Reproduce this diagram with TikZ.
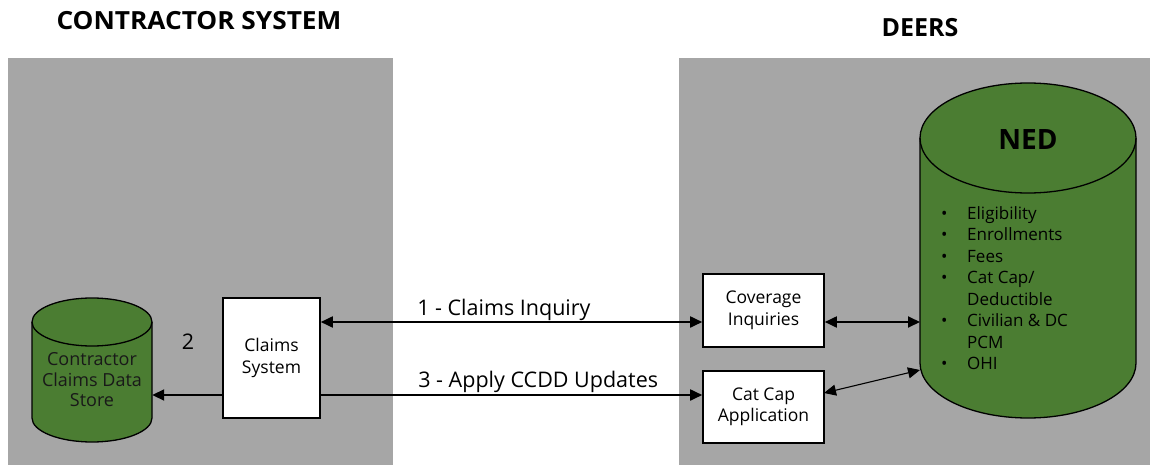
\documentclass[tikz,border=0pt]{standalone}
\usepackage{fontspec}
\setmainfont{Open Sans}
\usetikzlibrary{arrows.meta}
\definecolor{panel}{HTML}{A6A6A6}
\definecolor{dbgreen}{HTML}{4B7D32}
\tikzset{
  box/.style={draw=black, line width=1.6pt, fill=white, inner sep=0pt, align=center, font=\fontsize{17.5}{21.5}\selectfont},
  cyl/.style={draw=black, line width=1.3pt, fill=dbgreen},
  conn/.style={line width=1.8pt, {Triangle[length=12pt,width=11pt]}-{Triangle[length=12pt,width=11pt]}},
  oneway/.style={line width=1.8pt, -{Triangle[length=12pt,width=11pt]}},
  lbl/.style={font=\fontsize{21.5}{24}\selectfont},
  title/.style={font=\bfseries\fontsize{25}{29}\selectfont},
}
\begin{document}
\begin{tikzpicture}[x=1pt,y=-1pt]
\useasboundingbox (0,0) rectangle (1150,465);
% panels
\fill[panel] (8,58) rectangle (393,465);
\fill[panel] (679,58) rectangle (1150,465);
% titles
\node[title, xscale=1.05] (t1) at (199,21) {CONTRACTOR SYSTEM};
\node[title] (t2) at (920,28) {DEERS};
% left cylinder
\path[cyl] (32,322) -- (32,418) arc[start angle=180,end angle=0,x radius=60,y radius=24] -- (152,322) arc[start angle=0,end angle=-180,x radius=60,y radius=24] -- cycle;
\draw[line width=1.3pt] (32,322) arc[start angle=180,end angle=0,x radius=60,y radius=24];
\node[inner sep=0pt, minimum width=120pt, minimum height=144pt] (store) at (92,370) {};
\node[align=center, font=\fontsize{18}{20.5}\selectfont, text=black!90] (storetxt) at (92,380) {Contractor\\Claims Data\\Store};
% NED cylinder
\path[cyl] (920,138) -- (920,363) arc[start angle=180,end angle=0,x radius=108,y radius=55] -- (1136,138) arc[start angle=0,end angle=-180,x radius=108,y radius=55] -- cycle;
\draw[line width=1.3pt] (920,138) arc[start angle=180,end angle=0,x radius=108,y radius=55];
\node[inner sep=0pt, minimum width=216pt, minimum height=335pt] (ned) at (1028,250.5) {};
\node[font=\bfseries\fontsize{28}{32}\selectfont] (nedtitle) at (1028,140) {NED};
\node[anchor=north west, align=left, inner sep=0pt, font=\fontsize{17}{21.5}\selectfont] (nedlist) at (941,206) {%
\makebox[26pt][l]{\textbullet}Eligibility\\
\makebox[26pt][l]{\textbullet}Enrollments\\
\makebox[26pt][l]{\textbullet}Fees\\
\makebox[26pt][l]{\textbullet}Cat Cap/\\
\makebox[26pt][l]{}Deductible\\
\makebox[26pt][l]{\textbullet}Civilian \& DC\\
\makebox[26pt][l]{}PCM\\
\makebox[26pt][l]{\textbullet}OHI};
% boxes
\node[box, minimum width=97pt, minimum height=120pt] (claims) at (271.5,358) {Claims\\System};
\node[box, minimum width=121pt, minimum height=73pt] (cov) at (763.5,310.5) {Coverage\\Inquiries};
\node[box, minimum width=121pt, minimum height=72pt] (cat) at (763.5,407) {Cat Cap\\Application};
\node[lbl] (two) at (188,342) {2};
% connectors
\coordinate (nedA) at (920,322);
\coordinate (nedB) at (920,370);
\coordinate (catR) at (824,393);
\draw[conn] (claims.east |- 0,322) -- (cov.west |- 0,322) node[lbl, pos=0.48, above=-2.5pt] (l1) {1 - Claims Inquiry};
\draw[oneway] (claims.east |- 0,395) -- (cat.west |- 0,395) node[lbl, pos=0.57, above=-1.5pt] (l3) {3 - Apply CCDD Updates};
\draw[oneway] (claims.west |- 0,395) -- (store.east |- 0,395);
\draw[conn] (cov.east |- 0,322) -- (nedA);
\draw[line width=1.1pt, {Triangle[length=12pt,width=11pt]}-{Triangle[length=12pt,width=11pt]}] (catR) -- (nedB);
\end{tikzpicture}
\end{document}
